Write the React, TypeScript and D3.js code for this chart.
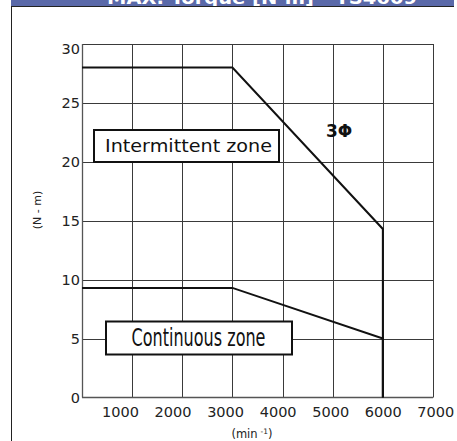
import React from 'react'
import * as d3 from 'd3'

// speed (min-1) / torque (N-m) corners
const speedTicks = [1000, 2000, 3000, 4000, 5000, 6000, 7000]
const torqueTicks = [0, 5, 10, 15, 20, 25, 30]
const intermittentSpeed = [0, 3000, 6000, 6000]
const intermittentTorque = [28, 28, 14.3, 0]
const continuousSpeed = [0, 3000, 6000, 6000]
const continuousTorque = [9.3, 9.3, 5, 0]

const W = 457
const H = 441
const margin = { left: 82, right: 24, top: 44, bottom: 43.5 }

export default function App() {
  const x = d3.scaleLinear().domain([0, 7000]).range([margin.left, W - margin.right])
  const y = d3.scaleLinear().domain([0, 30]).range([H - margin.bottom, margin.top])
  // the tick labels in the source sit slightly wider apart than the grid
  const xLabel = d3.scaleLinear().domain([1000, 7000]).range([120.5, 435.8])

  const line = d3.line<[number, number]>()
    .x(d => x(d[0]))
    .y(d => y(d[1]))

  const inter = intermittentSpeed.map((s, i) => [s, intermittentTorque[i]] as [number, number])
  const cont = continuousSpeed.map((s, i) => [s, continuousTorque[i]] as [number, number])

  const font = '"DejaVu Sans", Verdana, sans-serif'
  const grid = '#3a3a3a'

  return (
    <svg width={W} height={H} style={{ position: 'absolute', left: 0, top: 0, background: '#fff' }}
      fontFamily={font}>
      {/* header strip, mostly cut off */}
      <rect x={11} y={0} width={443} height={6} fill="#5a69a9" />
      <clipPath id="hdr"><rect x={11} y={0} width={443} height={6} /></clipPath>
      <text x={262} y={4} textAnchor="middle" fill="#fff" fontWeight="bold" fontSize={17}
        textLength={310} lengthAdjust="spacingAndGlyphs" clipPath="url(#hdr)">
        MAX. Torque [N·m] - TS4609
      </text>
      <line x1={11} x2={454} y1={6.5} y2={6.5} stroke="#222" strokeWidth={1} />
      <line x1={11.5} x2={11.5} y1={6} y2={H} stroke="#222" strokeWidth={1} />

      {/* grid */}
      {speedTicks.map(t => (
        <line key={'v' + t} x1={Math.round(x(t)) + 0.5} x2={Math.round(x(t)) + 0.5}
          y1={y(30)} y2={y(0)} stroke={grid} strokeWidth={1} />
      ))}
      {torqueTicks.filter(t => t > 0).map(t => (
        <line key={'h' + t} x1={x(0)} x2={x(7000)}
          y1={Math.round(y(t)) + 0.5} y2={Math.round(y(t)) + 0.5} stroke={grid} strokeWidth={1} />
      ))}
      <line x1={x(0) + 0.5} x2={x(0) + 0.5} y1={y(30)} y2={y(0)} stroke="#555" strokeWidth={1.3} />
      <line x1={x(0)} x2={x(7000)} y1={y(0)} y2={y(0)} stroke="#555" strokeWidth={1.3} />

      {/* curves */}
      <path d={line(inter) || ''} fill="none" stroke="#111" strokeWidth={2} />
      <path d={line(cont) || ''} fill="none" stroke="#111" strokeWidth={2} />

      {/* y tick labels */}
      {torqueTicks.map(t => (
        <text key={'yl' + t} x={80} y={t === 30 ? y(t) + 5 : y(t)} dy="0.36em" textAnchor="end"
          fontSize={14.5} fill="#222">{t}</text>
      ))}
      {/* x tick labels */}
      {speedTicks.map(t => (
        <text key={'xl' + t} x={xLabel(t)} y={416.5} textAnchor="middle"
          fontSize={14.5} fill="#222">{t}</text>
      ))}

      {/* axis titles */}
      <text x={252} y={438} textAnchor="middle" fontSize={11.5} fill="#222">
        (min<tspan fontSize={7.5} dx={3} dy={-4}>-1</tspan><tspan dy={4}>)</tspan>
      </text>
      <text transform={`translate(41,210) rotate(-90)`} textAnchor="middle" fontSize={11} fill="#222">
        (N - m)
      </text>

      {/* zone labels */}
      <rect x={94} y={130} width={185} height={32} fill="#fff" stroke="#111" strokeWidth={2} />
      <text x={105} y={152} fontSize={18.5} fill="#111" textLength={167} lengthAdjust="spacingAndGlyphs">
        Intermittent zone
      </text>
      <rect x={106} y={321.5} width={186} height={33} fill="#fff" stroke="#111" strokeWidth={2} />
      <text x={131.5} y={346} fontSize={25} fill="#111" textLength={134} lengthAdjust="spacingAndGlyphs">
        Continuous zone
      </text>

      <text x={326} y={137} fontSize={17} fontWeight="bold" fill="#111">3Φ</text>
    </svg>
  )
}
